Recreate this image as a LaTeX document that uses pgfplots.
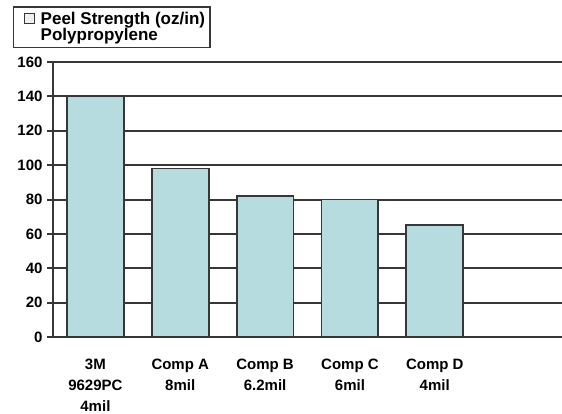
\documentclass[border=0pt]{standalone}
\usepackage{fontspec}
\setmainfont{Liberation Sans}
\usepackage{pgfplots}
\pgfplotsset{compat=1.18}
\definecolor{barfill}{RGB}{182,220,224}
\definecolor{lineclr}{RGB}{55,55,55}
\begin{document}
\begin{tikzpicture}
\useasboundingbox (0pt,0pt) rectangle (562pt,413pt);
\begin{axis}[
    at={(53pt,76pt)}, anchor=south west,
    scale only axis,
    width=509pt, height=275pt,
    ybar, bar width=0.67,
    xmin=-0.5, xmax=5.5,
    ymin=0, ymax=160,
    ytick={0,20,...,160},
    xtick={0,1,2,3,4},
    xticklabels={{3M\\9629PC\\4mil},{Comp A\\8mil},{Comp B\\6.2mil},{Comp C\\6mil},{Comp D\\4mil}},
    minor xtick={0.5,1.5,2.5,3.5,4.5},
    axis x line*=bottom, axis y line*=left,
    axis line style={lineclr, line width=2pt, -},
    tick align=outside,
    major tick length=6pt, minor tick length=3pt,
    xtick style={draw=none},
    minor x tick style={lineclr, line width=1pt},
    y tick style={lineclr, line width=2pt},
    ymajorgrids,
    grid style={lineclr, line width=2pt},
    /pgf/number format/assume math mode=true,
    ticklabel style={font=\fontsize{15}{21}\selectfont\bfseries},
    yticklabel style={xshift=-1pt},
    xticklabel style={align=center, yshift=-12pt},
    legend style={at={(-0.0786,1.2036)}, anchor=north west,
        draw=lineclr, line width=1.5pt,
        font=\fontsize{17}{16}\selectfont\bfseries,
        nodes={align=left}, inner xsep=3pt, inner ysep=3.5pt},
    legend image code/.code={
        \path[draw=none, fill=none] (-8pt,8pt) -- (14pt,8pt);
        \draw[fill=gray!12, draw=lineclr, line width=1pt] (0pt,4pt) rectangle (10pt,14pt);},
]
\addplot[fill=barfill, draw=lineclr, line width=1.8pt] coordinates {(0,140) (1,98) (2,82) (3,80) (4,65)};
\legend{{Peel Strength (oz/in)\\Polypropylene}}
\end{axis}
\end{tikzpicture}
\end{document}
